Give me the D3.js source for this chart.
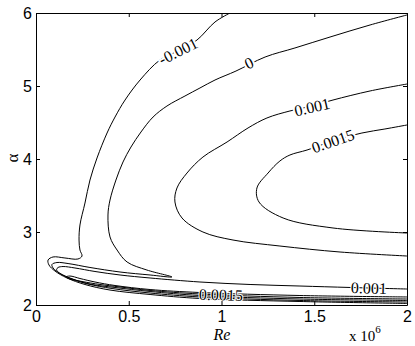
<!DOCTYPE html>
<html>
<head>
<script src="https://d3js.org/d3.v7.min.js"></script>
<style>
  body { margin: 0; background: #fff; }
  svg { display: block; }
  .tick text { font-family: "Liberation Sans", Arial, sans-serif; font-size: 16px; fill: #000; }
  .clabel { font-family: "Liberation Serif", "Times New Roman", serif; font-size: 16px; }
  .axlabel { font-family: "Liberation Serif", "Times New Roman", serif; }
</style>
</head>
<body>
<svg id="chart" width="415" height="346"></svg>
<script>
// axes
const xTicks = [0, 0.5, 1, 1.5, 2];
const yTicks = [2, 3, 4, 5, 6];

// contour lines, [Re (x10^6), alpha]
const cNeg001 = [[1.046,6.0],[0.965,5.877],[0.868,5.630],[0.776,5.493],[0.668,5.356],[0.561,5.082],
  [0.480,4.808],[0.426,4.575],[0.383,4.356],[0.329,4.014],[0.291,3.712],[0.264,3.397],[0.237,3.096],
  [0.232,2.890],[0.237,2.753],[0.248,2.671],[0.226,2.630],[0.156,2.644],[0.092,2.658],[0.065,2.616],
  [0.070,2.548],[0.102,2.466],[0.167,2.370],[0.264,2.281],[0.399,2.205],[0.615,2.144],[0.884,2.089],
  [1.423,2.048],[2.0,2.021]];

const cZero = [[2.0,5.973],[1.801,5.836],[1.585,5.671],[1.396,5.521],[1.235,5.397],[1.078,5.205],
  [0.965,5.082],[0.884,4.973],[0.803,4.863],[0.706,4.726],[0.631,4.575],[0.566,4.370],[0.512,4.164],
  [0.469,3.959],[0.431,3.712],[0.399,3.438],[0.388,3.233],[0.399,2.932],[0.437,2.753],[0.491,2.589],
  [0.598,2.479],[0.733,2.384],[0.615,2.411],[0.453,2.452],[0.291,2.514],[0.173,2.568],[0.113,2.582],
  [0.086,2.555],[0.092,2.507],[0.129,2.432],[0.194,2.356],[0.280,2.288],[0.410,2.226],[0.615,2.164],
  [0.884,2.110],[1.423,2.062],[2.0,2.041]];

const c001Upper = [[2.0,5.027],[1.801,4.932],[1.601,4.808],[1.488,4.726],[1.369,4.658],[1.245,4.562],
  [1.143,4.425],[1.030,4.233],[0.900,4.027],[0.814,3.808],[0.760,3.603],[0.749,3.411],[0.787,3.192],
  [0.900,3.000],[1.062,2.890],[1.315,2.808],[1.639,2.726],[2.0,2.671]];

const c0015Upper = [[2.0,4.466],[1.881,4.411],[1.757,4.356],[1.601,4.247],[1.461,4.123],[1.369,4.055],
  [1.315,3.973],[1.251,3.808],[1.191,3.603],[1.202,3.411],[1.332,3.192],[1.601,3.055],[2.0,2.986]];

const c001Band = [[2.0,2.219],[1.693,2.240],[1.423,2.260],[1.154,2.281],[0.884,2.315],[0.615,2.370],
  [0.453,2.411],[0.318,2.459],[0.210,2.507],[0.146,2.527],[0.119,2.514],[0.111,2.486],[0.119,2.452],
  [0.156,2.397],[0.221,2.336],[0.302,2.281],[0.426,2.240],[0.615,2.185],[0.884,2.130],[1.423,2.082],
  [2.0,2.062]];

const c0015Band = [[2.0,2.110],[1.423,2.130],[0.884,2.171],[0.615,2.212],[0.426,2.267],[0.318,2.315],
  [0.237,2.363],[0.183,2.397],[0.162,2.384],[0.183,2.356],[0.248,2.322],[0.345,2.281],[0.453,2.247],
  [0.615,2.199],[0.884,2.151],[1.423,2.103],[2.0,2.082]];

const contours = [cNeg001, cZero, c001Upper, c0015Upper, c001Band, c0015Band];

// contour labels
const labelText  = ["-0.001", "0", "0.001", "0.0015", "0.001", "0.0015"];
const labelRe    = [0.766, 1.148, 1.488, 1.601, 1.795, 0.997];
const labelAlpha = [5.479, 5.315, 4.712, 4.247, 2.233, 2.140];
const labelLine  = [0, 1, 2, 3, 4, 5];

const svg = d3.select("#chart");
const x = d3.scaleLinear([0, 2], [36, 407]);
const y = d3.scaleLinear([2, 6], [305, 13]);

svg.append("defs").append("clipPath").attr("id", "plot")
  .append("rect").attr("x", 36).attr("y", 13).attr("width", 371).attr("height", 292);

const line = d3.line().x(d => x(d[0])).y(d => y(d[1])).curve(d3.curveCatmullRom.alpha(0.5));

svg.append("g").attr("clip-path", "url(#plot)")
  .selectAll("path").data(contours).join("path")
  .attr("d", line).attr("fill", "none").attr("stroke", "#000").attr("stroke-width", 1);

// angle of the line near each label
function angleAt(c, px, py) {
  let best = 1e9, ang = 0;
  for (let i = 0; i < c.length - 1; i++) {
    const ax = x(c[i][0]), ay = y(c[i][1]), bx = x(c[i+1][0]), by = y(c[i+1][1]);
    const mx = (ax + bx) / 2, my = (ay + by) / 2;
    const dd = (mx - px) ** 2 + (my - py) ** 2;
    if (dd < best) { best = dd; ang = Math.atan2(by - ay, bx - ax) * 180 / Math.PI; }
  }
  if (ang > 90) ang -= 180;
  if (ang < -90) ang += 180;
  return ang;
}

svg.append("g").selectAll("text").data(labelText).join("text")
  .attr("class", "clabel")
  .attr("transform", (d, i) => {
    const px = x(labelRe[i]), py = y(labelAlpha[i]);
    return "translate(" + px + "," + py + ") rotate(" + angleAt(contours[labelLine[i]], px, py) + ")";
  })
  .attr("text-anchor", "middle").attr("dy", "0.35em")
  .attr("stroke", "#fff").attr("stroke-width", (d, i) => i < 4 ? 4 : 2)
  .attr("paint-order", "stroke").attr("fill", "#000")
  .text(d => d);

// box with inward ticks
const fmt = d => d3.format("")(d);
svg.append("g").attr("transform", "translate(0,305)")
  .call(d3.axisBottom(x).tickValues(xTicks).tickFormat(fmt).tickSizeInner(-4).tickSizeOuter(0).tickPadding(6));
svg.append("g").attr("transform", "translate(0,13)")
  .call(d3.axisTop(x).tickValues(xTicks).tickFormat("").tickSizeInner(-4).tickSizeOuter(0));
svg.append("g").attr("transform", "translate(36,0)")
  .call(d3.axisLeft(y).tickValues(yTicks).tickFormat(fmt).tickSizeInner(-4).tickSizeOuter(0).tickPadding(4));
svg.append("g").attr("transform", "translate(407,0)")
  .call(d3.axisRight(y).tickValues(yTicks).tickFormat("").tickSizeInner(-4).tickSizeOuter(0));
svg.selectAll(".domain, .tick line").attr("stroke", "#000");

// axis titles
svg.append("text").attr("class", "axlabel")
  .attr("transform", "translate(18,158) rotate(-90)")
  .attr("text-anchor", "middle").attr("font-size", 17).text("α");
svg.append("text").attr("class", "axlabel")
  .attr("x", 222).attr("y", 340).attr("text-anchor", "middle")
  .attr("font-size", 16).attr("font-style", "italic").text("Re");
const mult = svg.append("text").attr("class", "axlabel")
  .attr("x", 349).attr("y", 341).attr("font-size", 15);
mult.append("tspan").text("x 10");
mult.append("tspan").attr("dy", -8).attr("font-size", 11).text("6");
</script>
</body>
</html>
